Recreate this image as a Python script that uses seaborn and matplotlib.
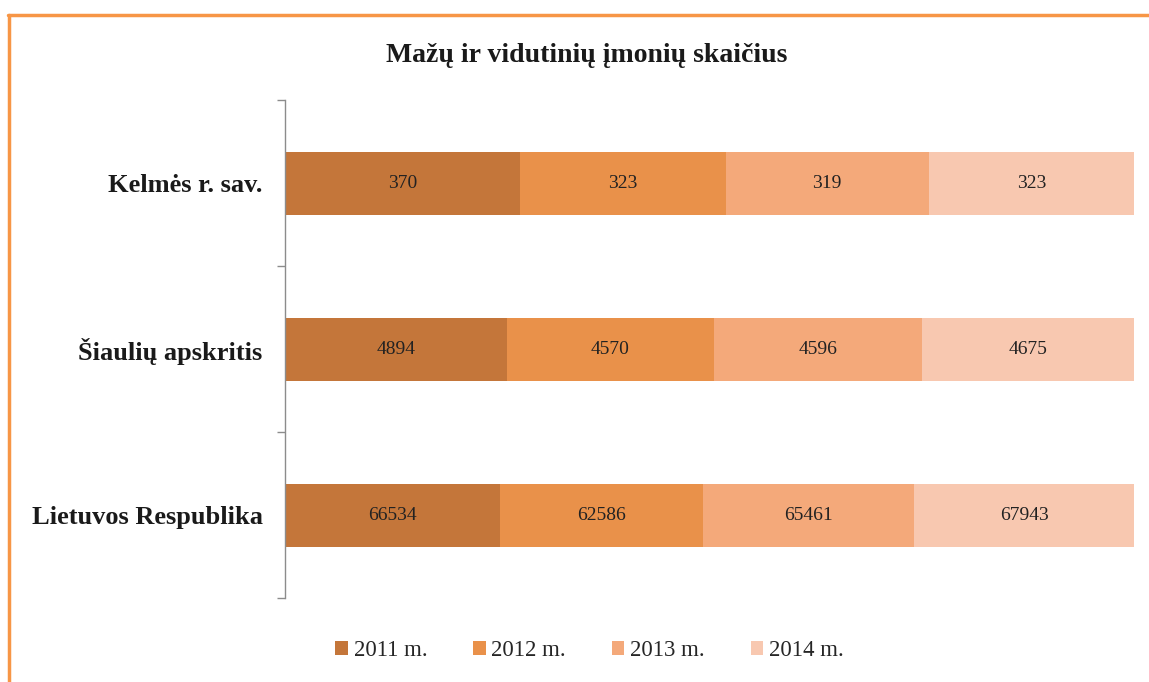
import matplotlib
matplotlib.use("Agg")
import matplotlib.pyplot as plt
import seaborn as sns
import pandas as pd
import numpy as np
from matplotlib.lines import Line2D
from matplotlib.patches import Patch

# data
regions = ["Kelmės r. sav.", "Šiaulių apskritis", "Lietuvos Respublika"]
years = ["2011 m.", "2012 m.", "2013 m.", "2014 m."]
v2011 = [370, 4894, 66534]
v2012 = [323, 4570, 62586]
v2013 = [319, 4596, 65461]
v2014 = [323, 4675, 67943]
colors = ["#C4763A", "#E9914A", "#F4A97A", "#F8C8B0"]

sns.set_style("white")
plt.rcParams["font.family"] = ["Liberation Serif", "DejaVu Serif"]

df = pd.DataFrame({"region": regions, "2011 m.": v2011, "2012 m.": v2012,
                   "2013 m.": v2013, "2014 m.": v2014})
totals = df[years].sum(axis=1)
shares = df[years].div(totals, axis=0) * 100

fig = plt.figure(figsize=(11.49, 6.82), dpi=100)
ax = fig.add_axes([0.248, 0.123, 0.739, 0.730])

left = np.zeros(len(regions))
for yr, col in zip(years, colors):
    sns.barplot(x=shares[yr].values, y=df["region"], orient="h", color=col,
                width=0.38, left=left, ax=ax, linewidth=0, saturation=1)
    cont = ax.containers[-1]
    ax.bar_label(cont, labels=[str(v) for v in df[yr]], label_type="center",
                 fontsize=14, color="#222222")
    left = left + shares[yr].values

ax.set_xlim(0, 100)
ax.set_ylim(2.5, -0.5)
ax.set_xlabel("")
ax.set_ylabel("")
ax.set_xticks([])
ax.tick_params(axis="y", which="major", length=0, labelsize=19, pad=16)
for lab in ax.get_yticklabels():
    lab.set_fontweight("bold")
    lab.set_color("#1a1a1a")
ax.set_yticks([-0.5, 0.5, 1.5, 2.5], minor=True)
ax.tick_params(axis="y", which="minor", left=True, direction="out", length=6,
               color="#8c8c8c", width=1)
for s in ["top", "right", "bottom"]:
    ax.spines[s].set_visible(False)
ax.spines["left"].set_color("#8c8c8c")
ax.spines["left"].set_linewidth(1)

fig.text(0.511, 0.919, "Mažų ir vidutinių įmonių skaičius", ha="center", va="center",
         fontsize=20, fontweight="bold", color="#1a1a1a")

handles = [Patch(facecolor=c, edgecolor="none") for c in colors]
leg = fig.legend(handles, years, loc="center", bbox_to_anchor=(0.513, 0.046), ncol=4,
                 frameon=False, fontsize=16.5, handlelength=0.55, handleheight=0.55,
                 handletextpad=0.25, columnspacing=2.0)
for t in leg.get_texts():
    t.set_color("#262626")

# orange frame on top and left
fig.add_artist(Line2D([8 / 1149, 1], [1 - 15 / 682, 1 - 15 / 682], color="#F79646",
                      linewidth=2.5, transform=fig.transFigure))
fig.add_artist(Line2D([9 / 1149, 9 / 1149], [0, 1 - 15 / 682], color="#F79646",
                      linewidth=2.5, transform=fig.transFigure))

fig.savefig("out.png", dpi=100)
